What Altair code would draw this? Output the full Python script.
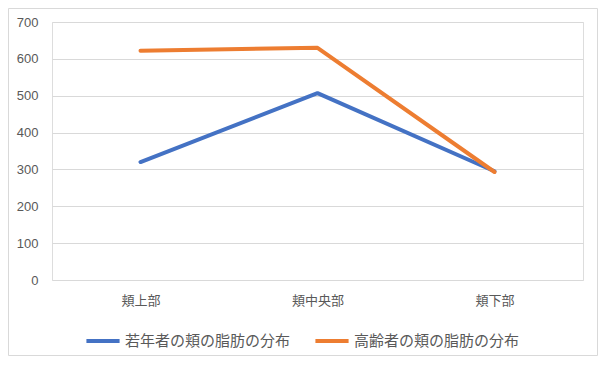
import altair as alt
import pandas as pd

categories = ["頬上部", "頬中央部", "頬下部"]
series_names = ["若年者の頬の脂肪の分布", "高齢者の頬の脂肪の分布"]
young_values = [320, 507, 295]
old_values = [622, 630, 293]
y_ticks = [0, 100, 200, 300, 400, 500, 600, 700]
colors = ["#4472C4", "#ED7D31"]

rows = []
for name, vals in zip(series_names, [young_values, old_values]):
    for c, v in zip(categories, vals):
        rows.append({"部位": c, "値": v, "系列": name})
df = pd.DataFrame(rows)

PAD_L, PAD_T, PAD_R, PAD_B = 44, 14, 15, 76
W, H = 531, 258

frame = alt.Chart(alt.Data(values=[{"a": 1}])).mark_rect(
    fill=None, stroke="#d9d9d9", strokeWidth=1
).encode(
    x=alt.value(-PAD_L + 0.5),
    x2=alt.value(W + PAD_R - 0.5),
    y=alt.value(-PAD_T + 0.5),
    y2=alt.value(H + PAD_B - 0.5),
)

lines = alt.Chart(df).mark_line(strokeWidth=4, strokeCap="round", strokeJoin="round").encode(
    x=alt.X("部位:N", sort=categories, title=None,
            scale=alt.Scale(padding=0.5),
            axis=alt.Axis(labelAngle=0, ticks=False, domain=False, grid=False,
                          labelFont="Noto Sans CJK JP", labelFontSize=13,
                          labelColor="#595959", labelPadding=14)),
    y=alt.Y("値:Q", title=None,
            scale=alt.Scale(domain=[0, 700], nice=False),
            axis=alt.Axis(values=y_ticks, ticks=False, domain=False,
                          gridColor="#d9d9d9", gridWidth=1,
                          labelFont="Liberation Sans", labelFontSize=13,
                          labelColor="#595959", labelPadding=14)),
    color=alt.Color("系列:N", sort=series_names,
                    scale=alt.Scale(domain=series_names, range=colors),
                    legend=alt.Legend(title=None, orient="none", direction="horizontal",
                                      legendX=32, legendY=300,
                                      symbolType="stroke", symbolSize=1100,
                                      symbolStrokeWidth=4, labelFont="Noto Sans CJK JP",
                                      labelFontSize=15, labelColor="#595959",
                                      labelLimit=400,
                                      columnPadding=16, labelOffset=3)),
)

chart = alt.layer(frame, lines).properties(
    width=W, height=H,
    autosize=alt.AutoSizeParams(type="none"),
    padding={"left": PAD_L, "top": PAD_T, "right": PAD_R, "bottom": PAD_B},
).configure_view(stroke=None).configure(background="white")

chart.save("out.html", embed_options={"renderer": "svg", "actions": False})
